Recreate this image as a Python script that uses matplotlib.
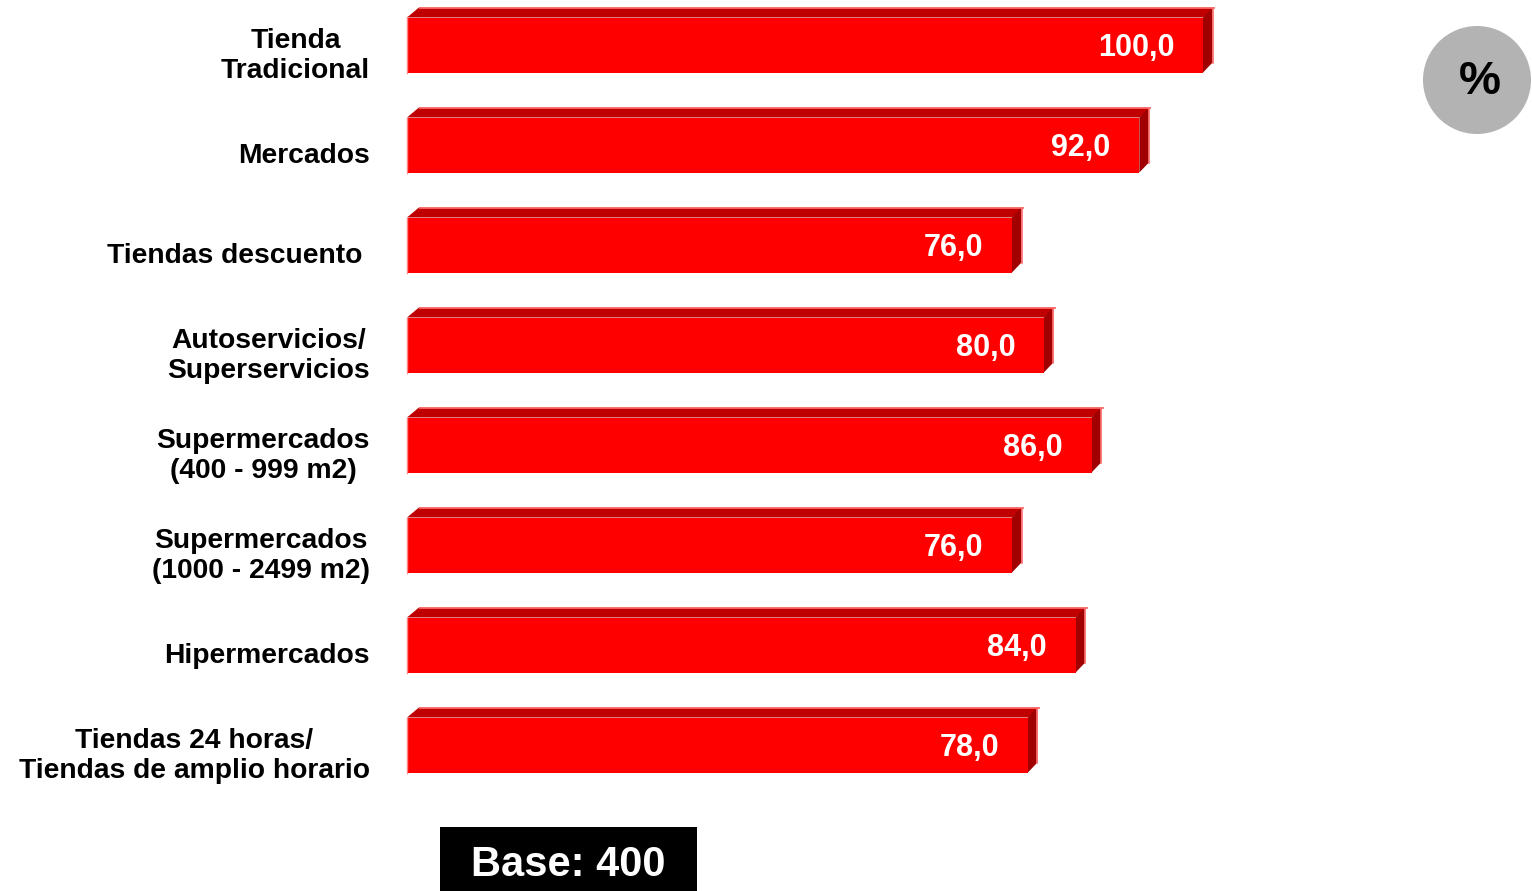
import matplotlib.pyplot as plt
from matplotlib.patches import Polygon, Rectangle, Ellipse

categories = [
    "Tienda\nTradicional",
    "Mercados",
    "Tiendas descuento ",
    "Autoservicios/\nSuperservicios",
    "Supermercados\n(400 - 999 m2)",
    "Supermercados\n(1000 - 2499 m2)",
    "Hipermercados",
    "Tiendas 24 horas/\nTiendas de amplio horario",
]
values = [100.0, 92.0, 76.0, 80.0, 86.0, 76.0, 84.0, 78.0]
base_n = 400

W, H = 1532, 891
fig = plt.figure(figsize=(W / 100, H / 100), dpi=100)
fig.patch.set_facecolor("white")

# bar area: value 0 at x=407px, 100 at x=1203px; rows 100px apart
ax = fig.add_axes([407 / W, 1 - 800 / H, 796 / W, 800 / H])
ax.set_xlim(0, 100)
ax.set_ylim(7.55, -0.45)
ax.axis("off")

FONT = "Liberation Sans"
bar_h = 0.55
dx, dy = 1.5, 0.10  # depth of the 3d faces (data units)

for i, (lab, v) in enumerate(zip(categories, values)):
    top = i - bar_h / 2
    bot = i + bar_h / 2
    # top face
    ax.add_patch(Polygon([(0, top), (dx, top - dy), (v + dx, top - dy), (v, top)],
                         closed=True, facecolor="#C00000", edgecolor="none", clip_on=False))
    ax.plot([dx, v + dx], [top - dy, top - dy], color="#FF7070", lw=1.2,
            solid_capstyle="butt", clip_on=False)
    # side face
    ax.add_patch(Polygon([(v, top), (v + dx * 0.8, top - dy), (v + dx * 0.8, bot - dy), (v, bot)],
                         closed=True, facecolor="#A00000", edgecolor="none", clip_on=False))
    ax.plot([v + dx * 0.8, v + dx * 0.8], [top - dy, bot - dy], color="#FF7070", lw=1.2,
            clip_on=False)
    # front face
    ax.barh(i, v, height=bar_h, left=0, color="#FF0000", edgecolor="none", clip_on=False)
    ax.plot([0, 0], [top, bot], color="#FF8080", lw=1.0, clip_on=False)

    ax.text(v - 3.6, i + 0.03, f"{v:.1f}".replace(".", ","), ha="right", va="center",
            color="white", fontsize=22, fontweight="bold", family=FONT)
    ax.text(-4.65, i + 0.11, lab, ha="right", va="center", multialignment="center",
            color="black", fontsize=20.3, fontweight="bold", family=FONT, linespacing=1.22)

# percent badge
fig.add_artist(Ellipse((1477 / W, 1 - 80 / H), 108 / W, 108 / H,
                       transform=fig.transFigure, facecolor="#B3B3B3", edgecolor="none"))
fig.text(1480 / W, 1 - 82 / H, "%", ha="center", va="center", fontsize=34,
         fontweight="bold", family=FONT, color="black")

# base box
fig.add_artist(Rectangle((440 / W, 0), 257 / W, 64 / H, transform=fig.transFigure,
                         facecolor="black", edgecolor="none"))
fig.text(568 / W, 1 - 865 / H, f"Base: {base_n}", ha="center", va="center", fontsize=30,
         fontweight="bold", family=FONT, color="white")

fig.savefig("out.png", dpi=100)
